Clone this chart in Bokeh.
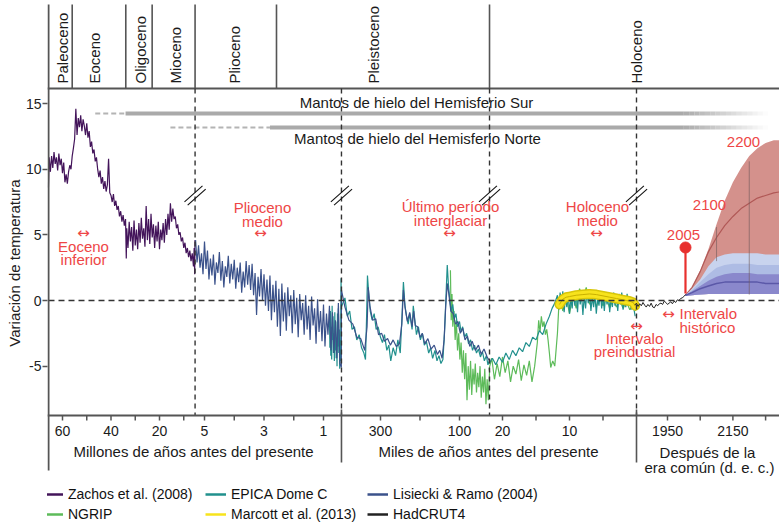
import math
from bokeh.plotting import figure
from bokeh.models import Range1d, FixedTicker, Legend, LegendItem
from bokeh.core.properties import value
from bokeh.embed import file_html
from bokeh.resources import INLINE

# ---------------- data ----------------
zachos_myr = [65.8, 65.5, 65.0, 64.5, 64.0, 63.5, 63.0, 62.5, 62.0, 61.5,
              61.0, 60.5, 60.0, 59.5, 59.0, 58.5, 58.0, 57.5, 57.0, 56.5,
              56.0, 55.5, 55.0, 54.5, 54.0, 53.5, 53.0, 52.5, 52.0, 51.5,
              51.0, 50.5, 50.0, 49.5, 49.0, 48.5, 48.0, 47.5, 47.0, 46.5,
              46.0, 45.5, 45.0, 44.5, 44.0, 43.5, 43.0, 42.5, 42.0, 41.5,
              41.0, 40.5, 40.0, 39.5, 39.0, 38.5, 38.0, 37.5, 37.0, 36.5,
              36.0, 35.5, 35.0, 34.5, 34.0, 33.7, 33.5, 33.0, 32.5, 32.0,
              31.5, 31.0, 30.5, 30.0, 29.5, 29.0, 28.5, 28.0, 27.5, 27.0,
              26.5, 26.0, 25.5, 25.0, 24.5, 24.0, 23.5, 23.0, 22.5, 22.0,
              21.5, 21.0, 20.5, 20.0, 19.5, 19.0, 18.5, 18.0, 17.5, 17.0,
              16.5, 16.0, 15.5, 15.0, 14.5, 14.0, 13.5, 13.0, 12.5, 12.0,
              11.5, 11.0, 10.5, 10.0, 9.5, 9.0, 8.5, 8.0, 7.5, 7.0,
              6.5, 6.0, 5.7, 5.5, 5.35]
zachos_temp = [8.6, 10.9, 9.8, 11.0, 10.1, 11.3, 10.4, 10.9, 9.9, 11.2,
               10.3, 10.8, 9.7, 10.5, 9.0, 9.6, 8.9, 9.8, 10.3, 10.0,
               11.0, 11.6, 12.3, 14.6, 12.6, 13.9, 13.2, 14.1, 12.9, 13.8,
               13.3, 12.6, 13.5, 12.4, 12.9, 11.7, 12.1, 11.2, 11.5, 10.6,
               10.9, 10.0, 9.4, 9.9, 8.9, 9.4, 8.5, 9.1, 8.3, 8.8,
               10.8, 8.2, 8.0, 7.5, 8.1, 7.2, 7.6, 6.9, 7.2, 6.4,
               6.8, 6.0, 6.5, 5.7, 6.2, 3.2, 5.5, 4.0, 6.0, 4.5,
               5.6, 3.8, 6.1, 4.2, 5.4, 3.9, 5.9, 4.4, 6.3, 4.7,
               5.5, 4.1, 7.2, 4.6, 6.2, 4.3, 6.6, 4.8, 5.8, 4.0,
               5.7, 4.5, 6.0, 3.9, 5.4, 4.6, 5.9, 4.4, 6.2, 5.0,
               6.6, 5.4, 7.4, 6.0, 7.0, 6.2, 6.4, 5.5, 5.8, 5.0,
               5.2, 4.5, 4.8, 4.0, 4.4, 3.6, 4.0, 3.3, 3.8, 3.0,
               3.6, 2.6, 4.0, 2.0, 4.6]

lr04_myr = [5.30, 5.25, 5.20, 5.15, 5.10, 5.05, 5.00, 4.95, 4.90, 4.85,
            4.80, 4.75, 4.70, 4.65, 4.60, 4.55, 4.50, 4.45, 4.40, 4.35,
            4.30, 4.25, 4.20, 4.15, 4.10, 4.05, 4.00, 3.95, 3.90, 3.85,
            3.80, 3.75, 3.70, 3.65, 3.60, 3.55, 3.50, 3.45, 3.40, 3.35,
            3.30, 3.25, 3.20, 3.15, 3.10, 3.05, 3.00, 2.95, 2.90, 2.85,
            2.80, 2.75, 2.70, 2.65, 2.60, 2.55, 2.50, 2.45, 2.40, 2.35,
            2.30, 2.25, 2.20, 2.15, 2.10, 2.05, 2.00, 1.95, 1.90, 1.85,
            1.80, 1.75, 1.70, 1.65, 1.60, 1.55, 1.50, 1.45, 1.40, 1.35,
            1.30, 1.25, 1.20, 1.15, 1.10, 1.05, 1.00, 0.95, 0.90, 0.85,
            0.80, 0.75, 0.70, 0.65, 0.60, 0.55, 0.50, 0.45, 0.40]
lr04_temp_myr = [4.6, 2.9, 4.2, 2.5, 3.6, 2.0, 4.5, 2.4, 3.8, 1.6,
                 3.2, 1.9, 3.5, 1.2, 2.9, 2.1, 3.7, 1.5, 3.0, 1.0,
                 2.6, 1.8, 3.4, 1.3, 2.8, 1.6, 3.1, 0.9, 2.5, 1.4,
                 2.9, 0.6, 2.2, 1.0, 3.0, 1.2, 2.7, 0.8, 2.8, 0.4,
                 2.1, -1.1, 1.8, 0.3, 2.4, 0.0, 2.0, -0.4, 1.6, -0.8,
                 1.9, -1.5, 1.2, -0.9, 1.5, -2.0, 0.9, -2.7, 1.3, -1.6,
                 0.6, -2.3, 1.0, -1.2, 0.4, -2.5, 0.8, -1.8, 0.2, -2.8,
                 0.5, -1.5, -0.2, -2.6, 0.4, -2.2, -0.4, -3.0, 0.3, -1.9,
                 -0.6, -3.3, 0.1, -2.4, -0.8, -3.1, -0.3, -3.5, -1.0, -2.6,
                 -0.4, -3.8, -0.9, -4.0, -1.5, -4.4, -0.2, -4.8, -5.1]
lr04_kyr = [396, 390, 380, 370, 360, 350, 340, 334, 331, 327,
            320, 312, 305, 297, 290, 282, 275, 268, 260, 252,
            246, 242, 238, 232, 226, 220, 216, 212, 206, 200,
            194, 188, 180, 172, 164, 156, 150, 144, 139, 135,
            131, 127, 122, 116, 110, 104, 98, 92, 86, 80,
            74, 68, 60, 52, 45, 38, 30, 24]
lr04_temp_kyr = [0.8, -0.5, -1.5, -1.8, -2.8, -2.9, -3.8, -2.0, 1.0, -0.4,
                 -1.5, -1.4, -2.6, -2.5, -3.1, -2.9, -3.4, -3.0, -3.5, -3.3,
                 -1.8, 0.8, -0.5, -1.6, -0.9, -2.0, -0.8, -1.9, -2.0, -2.8,
                 -2.5, -3.3, -2.9, -3.7, -3.4, -4.1, -3.8, -4.4, -3.0, -0.5,
                 1.3, 0.5, -0.8, -1.0, -1.8, -1.6, -2.5, -2.1, -3.0, -2.7,
                 -3.5, -3.1, -3.8, -3.4, -4.1, -3.7, -4.3, -4.6]

epica_kyr = [800, 785, 770, 755, 740, 725, 710, 695, 680, 665,
             650, 635, 620, 605, 590, 575, 560, 545, 530, 515,
             500, 485, 470, 455, 440, 425, 410, 400,
             390, 384, 378, 372, 366, 360, 354, 348, 342, 338,
             335, 333, 330, 326, 321, 316, 311, 306, 300, 295,
             290, 284, 279, 274, 268, 262, 256, 250, 246, 242,
             238, 234, 230, 226, 220, 217, 213, 209, 204, 199,
             194, 189, 184, 178, 173, 168, 162, 157, 152, 147,
             142, 138, 134, 131, 128, 125, 121, 117, 113, 109,
             105, 100, 96, 92, 87, 82, 77, 72, 67, 62,
             57, 52, 47, 42, 37, 32, 28, 25,
             22, 21.5, 21, 20.5, 20, 19.5, 19, 18.5, 18, 17.5,
             17, 16.5, 16, 15.5, 15, 14.5, 14, 13.5, 13, 12.6, 12.2,
             11.8, 11.6, 11.4, 11.2, 11.0, 10.8, 10.6, 10.4, 10.2, 10.0,
             9.8, 9.6, 9.4, 9.2, 9.0, 8.8, 8.6, 8.4, 8.2, 8.0,
             7.8, 7.6, 7.4, 7.2, 7.0, 6.8, 6.6, 6.4, 6.2, 6.0,
             5.8, 5.6, 5.4, 5.2, 5.0, 4.8, 4.6, 4.4, 4.2, 4.0,
             3.8, 3.6, 3.4, 3.2, 3.0, 2.8, 2.6, 2.4, 2.2, 2.0,
             1.8, 1.6, 1.4, 1.2, 1.0, 0.8, 0.6, 0.4, 0.2]
epica_temp = [-1.0, -3.6, -0.8, -4.2, -2.0, -4.5, -0.4, -3.0, -1.2, -4.0,
              -2.5, -4.6, -0.9, -3.8, -1.6, -4.4, -2.8, -5.0, -1.0, -3.5,
              -0.6, -4.0, -2.2, -5.2, -3.0, -4.6, 1.7, -0.5,
              0.2, -1.2, -0.8, -2.2, -2.0, -3.0, -2.6, -3.6, -4.0, -4.5,
              -1.0, 1.9, 0.6, -0.8, -1.5, -1.0, -2.2, -2.0, -2.8, -3.2,
              -2.6, -3.8, -3.4, -4.6, -3.6, -4.2, -3.0, -4.0, -1.5, 1.4,
              -0.4, -1.2, -1.8, -1.0, -2.2, -0.4, -1.5, -2.6, -2.0, -3.0,
              -2.5, -3.4, -3.1, -4.0, -3.6, -4.4, -3.8, -4.6, -4.2, -4.8,
              -4.5, -2.5, 0.5, 2.7, 1.2, 0.2, -0.8, -0.3, -1.4, -1.0,
              -2.0, -1.6, -2.4, -2.0, -2.8, -2.5, -3.3, -3.0, -3.8, -3.4,
              -4.0, -3.7, -4.3, -3.9, -4.6, -4.2, -4.9, -4.6,
              -4.8, -4.4, -4.9, -4.3, -4.7, -4.0, -4.5, -3.8, -4.2, -3.6,
              -3.9, -3.2, -3.5, -2.8, -3.0, -2.3, -2.6, -1.8, -1.2, -0.6, -0.2,
              0.4, -0.7, 0.6, -0.3, 0.7, -0.9, 0.3, -0.5, 0.6, -1.0,
              0.2, -0.6, 0.7, -0.4, 0.5, -0.9, 0.8, -0.3, 0.5, -1.1,
              0.4, -0.6, 0.7, -0.2, 0.6, -0.8, 0.3, -0.5, 0.5, -1.0,
              0.2, -0.4, 0.7, -0.6, 0.4, -0.8, 0.5, -0.3, 0.6, -0.9,
              0.3, -0.5, 0.6, -0.4, 0.4, -0.8, 0.5, -0.3, 0.6, -0.7,
              0.2, -0.5, 0.5, -0.4, 0.3, -0.7, 0.2, -0.6, -1.2]

ngrip_kyr = [123, 121, 119, 117, 114, 111, 108, 105, 102, 99,
             96, 93, 90, 87, 84, 81, 78, 75, 72, 69,
             66, 63, 60, 57, 54, 51, 48, 45, 42, 39,
             36, 33, 30, 27, 24,
             22, 21.6, 21.2, 20.8, 20.4, 20.0, 19.6, 19.2, 18.8, 18.4,
             18.0, 17.6, 17.2, 16.8, 16.4, 16.0, 15.6, 15.2,
             14.8, 14.6, 14.4, 14.2, 14.0, 13.8, 13.6, 13.4, 13.2, 13.0,
             12.8, 12.5, 12.2, 11.8, 11.6, 11.4,
             11.0, 10.5, 10.0, 9.5, 9.0, 8.5, 8.0, 7.5, 7.0, 6.5,
             6.0, 5.5, 5.0, 4.5, 4.0, 3.5, 3.0, 2.5, 2.0, 1.5,
             1.0, 0.5, 0.1]
ngrip_temp = [2.3, -1.5, 0.5, -2.0, -0.8, -3.0, -1.5, -3.8, -2.5, -4.5,
              -3.2, -5.5, -3.8, -6.0, -4.0, -7.6, -5.0, -6.8, -4.6, -7.2,
              -5.2, -6.4, -4.8, -7.0, -5.5, -6.6, -5.0, -7.4, -5.8, -7.0,
              -5.2, -7.9, -6.0, -7.6, -5.4,
              -5.2, -4.4, -6.0, -4.8, -5.8, -4.3, -5.5, -4.6, -6.2, -5.0,
              -5.6, -4.5, -6.1, -4.9, -5.7, -4.6, -6.2, -5.0,
              -3.2, -1.5, -2.4, -1.2, -2.0, -1.6, -2.6, -2.2, -3.0, -4.0,
              -5.1, -4.6, -5.0, -2.5, -0.5, 0.2,
              -0.8, 0.3, -1.0, 0.4, -0.6, 0.9, 0.2, 1.0, -0.3, 0.5,
              -0.5, 0.3, -0.4, 0.2, -0.6, 0.1, -0.5, 0.0, -0.6, -0.1,
              -0.7, -0.4, -0.8]

marcott_kyr = [11.5, 11.0, 10.5, 10.0, 9.0, 8.0, 7.0, 6.0, 5.0, 4.0, 3.0, 2.0, 1.5, 1.0, 0.5, 0.2]
marcott_temp = [-0.3, 0.1, 0.25, 0.3, 0.4, 0.45, 0.5, 0.45, 0.35, 0.25, 0.15, 0.05, 0.0, -0.05, -0.15, -0.4]

hadcrut_year = [1850, 1855, 1860, 1865, 1870, 1875, 1880, 1885, 1890, 1895,
                1900, 1905, 1910, 1915, 1920, 1925, 1930, 1935, 1940, 1945,
                1950, 1955, 1960, 1965, 1970, 1975, 1980, 1985, 1990, 1995,
                2000, 2005]
hadcrut_temp = [-0.35, -0.2, -0.45, -0.25, -0.4, -0.15, -0.35, -0.5, -0.3, -0.45,
                -0.2, -0.5, -0.55, -0.3, -0.4, -0.25, -0.2, -0.3, -0.05, -0.15,
                -0.3, -0.2, -0.1, -0.25, -0.05, -0.15, 0.05, 0.0, 0.15, 0.2,
                0.3, 0.45]

proj_year = [2005, 2025, 2050, 2075, 2100, 2125, 2150, 2175, 2200, 2225, 2250, 2275, 2300]
proj_red_hi = [0.4, 1.0, 2.3, 3.9, 5.8, 7.6, 9.0, 10.1, 11.0, 11.6, 12.0, 12.2, 12.2]
proj_red_mid = [0.4, 1.0, 2.2, 3.7, 4.8, 5.7, 6.4, 7.0, 7.4, 7.8, 8.0, 8.2, 8.3]
proj_lblue_hi = [0.4, 0.9, 1.6, 2.6, 3.3, 3.5, 3.6, 3.6, 3.6, 3.6, 3.5, 3.5, 3.5]
proj_mblue_hi = [0.4, 0.8, 1.4, 2.0, 2.5, 2.7, 2.8, 2.8, 2.8, 2.7, 2.7, 2.7, 2.7]
proj_purple_hi = [0.4, 0.7, 1.1, 1.5, 1.8, 2.0, 2.1, 2.1, 2.1, 2.0, 2.0, 2.0, 2.0]
proj_blue_mid = [0.4, 0.6, 0.9, 1.1, 1.3, 1.4, 1.4, 1.4, 1.4, 1.4, 1.3, 1.3, 1.3]
proj_lo = [0.35, 0.4, 0.45, 0.5, 0.5, 0.5, 0.5, 0.5, 0.5, 0.5, 0.5, 0.5, 0.5]

y_ticks = [-5, 0, 5, 10, 15]
myr_ticks = [60, 50, 40, 30, 20, 10, 5, 4, 3, 2, 1]
myr_labels = [60, 40, 20, 5, 3, 1]
kyr_ticks = [300, 200, 100, 20, 15, 10, 5]
kyr_labels = [300, 100, 20, 10]
year_ticks = [1950, 2050, 2150, 2250]
year_labels = [1950, 2150]

epochs = ["Paleoceno", "Eoceno", "Oligoceno", "Mioceno", "Plioceno", "Pleistoceno", "Holoceno"]
legend_names = ["Zachos et al. (2008)", "NGRIP", "EPICA Dome C", "Marcott et al. (2013)",
                "Lisiecki & Ramo (2004)", "HadCRUT4"]

# ---------------- composite (broken) time axis ----------------
def x_myr(m):
    if m >= 5.33:
        return 62.0 + (60.0 - m) * 2.425
    return 204.0 + (5.0 - m) * 29.75


def x_kyr(k):
    if k >= 396:
        return x_myr(k / 1000.0)
    if k > 22.5:
        return 380.0 + (300.0 - k) * 0.395
    return 636.0 - k * 6.7


def x_year(yr):
    return 667.0 + (yr - 1950.0) * 0.327


ZERO_PX = 300.0
PX_PER_DEG = 13.13


def vy(py):
    return (ZERO_PX - py) / PX_PER_DEG


FONT = "Liberation Sans"
ARROW_FONT = "DejaVu Sans"
RED = "#ee4646"
GREY = "#555555"

C_ZACHOS = "#43145a"
C_LR04 = "#3b528b"
C_EPICA = "#21908d"
C_NGRIP = "#5dbb5a"
C_MARCOTT = "#f7e31c"
C_HAD = "#222222"

p = figure(width=779, height=525, x_range=Range1d(47, 779), y_range=Range1d(vy(525), vy(0)),
           output_backend="svg", toolbar_location=None, x_axis_location=None,
           y_axis_location="left", min_border_left=47, min_border_right=0,
           min_border_top=0, min_border_bottom=0)
p.outline_line_color = None
p.grid.visible = False
p.background_fill_color = "white"
p.border_fill_color = "white"

ax = p.yaxis[0]
ax.ticker = FixedTicker(ticks=y_ticks)
ax.major_label_overrides = {t: str(t) for t in y_ticks}
ax.axis_line_color = None
ax.major_tick_line_color = GREY
ax.major_tick_line_width = 1.5
ax.major_tick_out = 5
ax.major_tick_in = 0
ax.minor_tick_line_color = None
ax.major_label_standoff = 1
ax.major_label_text_font = FONT
ax.major_label_text_font_size = "14px"
ax.major_label_text_color = "#222222"
ax.axis_label = "Variación de temperatura"
ax.axis_label_standoff = 0
ax.axis_label_text_font = FONT
ax.axis_label_text_font_size = "15px"
ax.axis_label_text_font_style = "normal"
ax.axis_label_text_color = "#222222"


def txt(xs, ys, texts, color="#1a1a1a", size="15px", align="center", angle=0.0, font=FONT):
    p.text(x=xs, y=ys, text=texts, text_color=color, text_font=value(font),
           text_font_size=size, text_align=align, text_baseline="middle", angle=angle)


breaks = [x_myr(5.33), x_kyr(396), x_kyr(24), x_kyr(0)]

# ---------------- header (epochs) ----------------
epoch_bounds = [x_myr(56.0), x_myr(33.9), x_myr(23.03), x_myr(5.33), x_myr(2.58), x_kyr(24)]
p.segment(x0=epoch_bounds, y0=[vy(4)] * len(epoch_bounds), x1=epoch_bounds,
          y1=[vy(88)] * len(epoch_bounds), line_color=GREY, line_width=1.6)
epoch_x = [x_myr(60.0), x_myr(46.8), x_myr(27.8), x_myr(13.4), x_myr(4.0), x_kyr(318), x_kyr(0)]
txt(epoch_x, [vy(83)] * len(epochs), epochs, align="left", angle=math.pi / 2)
p.segment(x0=[47], y0=[vy(88)], x1=[779], y1=[vy(88)], line_color=GREY, line_width=2)

# ---------------- ice sheets ----------------
p.line([x_myr(46.5), x_myr(34.0)], [vy(113)] * 2, line_color="#b4b4b4", line_width=2, line_dash="5 3")
p.line([x_myr(34.0), x_year(2000)], [vy(113)] * 2, line_color="#aaaaaa", line_width=4)
p.line([x_myr(15.5), x_myr(2.8)], [vy(127)] * 2, line_color="#b4b4b4", line_width=2, line_dash="5 3")
p.line([x_myr(2.8), x_year(2000)], [vy(127)] * 2, line_color="#aaaaaa", line_width=4)
fade_n = 16
fx0, fx1 = x_year(2000), x_year(2258)
stp = (fx1 - fx0) / fade_n
fa0 = [fx0 + i * stp for i in range(fade_n)]
fa1 = [fx0 + (i + 1) * stp for i in range(fade_n)]
falpha = [1.0 - (i + 0.5) / fade_n for i in range(fade_n)]
for yy in (vy(113), vy(127)):
    p.segment(x0=fa0, y0=[yy] * fade_n, x1=fa1, y1=[yy] * fade_n,
              line_color="#aaaaaa", line_width=4, line_alpha=falpha)
txt([416], [vy(102)], ["Mantos de hielo del Hemisferio Sur"])
txt([417], [vy(138)], ["Mantos de hielo del Hemisferio Norte"])

# ---------------- projections ----------------
px_proj = [x_year(v) for v in proj_year]
p.varea(x=px_proj, y1=proj_lo, y2=proj_red_hi, fill_color="#c9766f", fill_alpha=0.8)
p.line(px_proj, proj_red_mid, line_color="#a84a48", line_width=1.2, line_alpha=0.8)
p.varea(x=px_proj, y1=proj_lo, y2=proj_lblue_hi, fill_color="#c8d3ee")
p.varea(x=px_proj, y1=proj_lo, y2=proj_mblue_hi, fill_color="#aebce4")
p.varea(x=px_proj, y1=proj_lo, y2=proj_purple_hi, fill_color="#8a88cc")
p.line(px_proj, proj_blue_mid, line_color="#5b58a8", line_width=1.5)
p.segment(x0=[x_year(2100), x_year(2200)], y0=[3.0, 0.45], x1=[x_year(2100), x_year(2200)],
          y1=[5.6, 10.6], line_color="#6f5a5a", line_width=1, line_alpha=0.6)

# ---------------- data series ----------------
p.line([x_myr(m) for m in zachos_myr], zachos_temp, line_color=C_ZACHOS, line_width=1.2)
p.line([x_kyr(k) for k in ngrip_kyr], ngrip_temp, line_color=C_NGRIP, line_width=1.2)
p.line([x_kyr(k) for k in epica_kyr], epica_temp, line_color=C_EPICA, line_width=1.2)
p.line([x_myr(m) for m in lr04_myr] + [x_kyr(k) for k in lr04_kyr],
       lr04_temp_myr + lr04_temp_kyr, line_color=C_LR04, line_width=1.2)
mx = [x_kyr(k) for k in marcott_kyr]
p.line(mx, marcott_temp, line_color="#d8c60a", line_width=10, line_join="round", line_cap="round")
p.line(mx, marcott_temp, line_color=C_MARCOTT, line_width=7, line_join="round", line_cap="round")
p.line(mx, marcott_temp, line_color="#c8b000", line_width=1)
p.line([x_year(v) for v in hadcrut_year], hadcrut_temp, line_color=C_HAD, line_width=1)

# ---------------- reference lines ----------------
p.line([48, 779], [0, 0], line_color="#333333", line_width=1.4, line_dash="6 4")
p.segment(x0=breaks, y0=[vy(88)] * 4, x1=breaks, y1=[vy(415)] * 4,
          line_color="#333333", line_width=1.4, line_dash="5 4")
bx0, by0, bx1, by1 = [], [], [], []
for bx in breaks:
    for off in (-1.6, 1.6):
        bx0.append(bx - 9 + off)
        by0.append(vy(203 + off))
        bx1.append(bx + 9 + off)
        by1.append(vy(187 + off))
p.segment(x0=bx0, y0=by0, x1=bx1, y1=by1, line_color="#111111", line_width=1.1)

p.segment(x0=[x_year(2005)], y0=[vy(293)], x1=[x_year(2005)], y1=[vy(247)], line_color="#e8302e", line_width=2.2)
p.scatter(x=[x_year(2005)], y=[vy(247)], size=11, fill_color="#e8302e", line_color="#e8302e")

# ---------------- axes (manual composite x axis) ----------------
p.segment(x0=[48], y0=[vy(4)], x1=[48], y1=[vy(470)], line_color=GREY, line_width=2)
p.segment(x0=[47], y0=[vy(415)], x1=[779], y1=[vy(415)], line_color=GREY, line_width=2)
tick_x = [x_myr(v) for v in myr_ticks] + [x_kyr(v) for v in kyr_ticks] + [x_year(v) for v in year_ticks]
p.segment(x0=tick_x, y0=[vy(415)] * len(tick_x), x1=tick_x, y1=[vy(420)] * len(tick_x),
          line_color=GREY, line_width=1.5)
p.segment(x0=[breaks[1], breaks[3]], y0=[vy(409)] * 2, x1=[breaks[1], breaks[3]], y1=[vy(462)] * 2,
          line_color=GREY, line_width=1.6)
lab_x = [x_myr(v) for v in myr_labels] + [x_kyr(v) for v in kyr_labels]
lab_t = [str(v) for v in myr_labels] + [str(v) for v in kyr_labels]
txt(lab_x, [vy(430)] * len(lab_x), lab_t, size="14px")
txt([x_year(v) for v in year_labels], [vy(430)] * len(year_labels),
    [str(v) for v in year_labels], size="14px")
txt([193, 488], [vy(451)] * 2, ["Millones de años antes del presente", "Miles de años antes del presente"])
txt([707, 709], [vy(452), vy(467)], ["Después de la", "era común (d. e. c.)"])

# ---------------- red annotations ----------------
txt([83, 83], [vy(246), vy(259)], ["Eoceno", "inferior"], color=RED)
txt([262, 262], [vy(207), vy(221)], ["Plioceno", "medio"], color=RED)
txt([450, 450], [vy(206), vy(220)], ["Último período", "interglaciar"], color=RED)
txt([597, 597], [vy(206), vy(220)], ["Holoceno", "medio"], color=RED)
txt([634, 634], [vy(338), vy(351)], ["Intervalo", "preindustrial"], color=RED)
txt([679, 679], [vy(313), vy(327)], ["Intervalo", "histórico"], color=RED, align="left")
txt([83, 260, 449, 596, 636, 668], [vy(232), vy(232), vy(232), vy(232), vy(325), vy(313)],
    ["↔"] * 6, color=RED, size="15px", font=ARROW_FONT)
txt([683, 709, 743], [vy(234), vy(204), vy(141)], ["2005", "2100", "2200"], color=RED)

# ---------------- legend (swatches drawn off-frame so only the legend shows them) ----------------
leg_colors = [C_ZACHOS, C_NGRIP, C_EPICA, C_MARCOTT, C_LR04, C_HAD]
swatches = [p.line(x=[-60, -50], y=[0, 0], line_color=c, line_width=2.5) for c in leg_colors]
for col, lx in enumerate([-5, 158, 320]):
    items = [LegendItem(label=legend_names[2 * col + r], renderers=[swatches[2 * col + r]]) for r in range(2)]
    lg = Legend(items=items, location=(lx, 2), orientation="vertical",
                glyph_width=21, glyph_height=18, label_height=18, label_standoff=5,
                spacing=2, padding=0, margin=0, border_line_color=None,
                background_fill_alpha=0, label_text_font=FONT,
                label_text_font_size="14px", label_text_color="#111111")
    p.add_layout(lg)

open("out.html", "w").write(file_html(p, INLINE))
